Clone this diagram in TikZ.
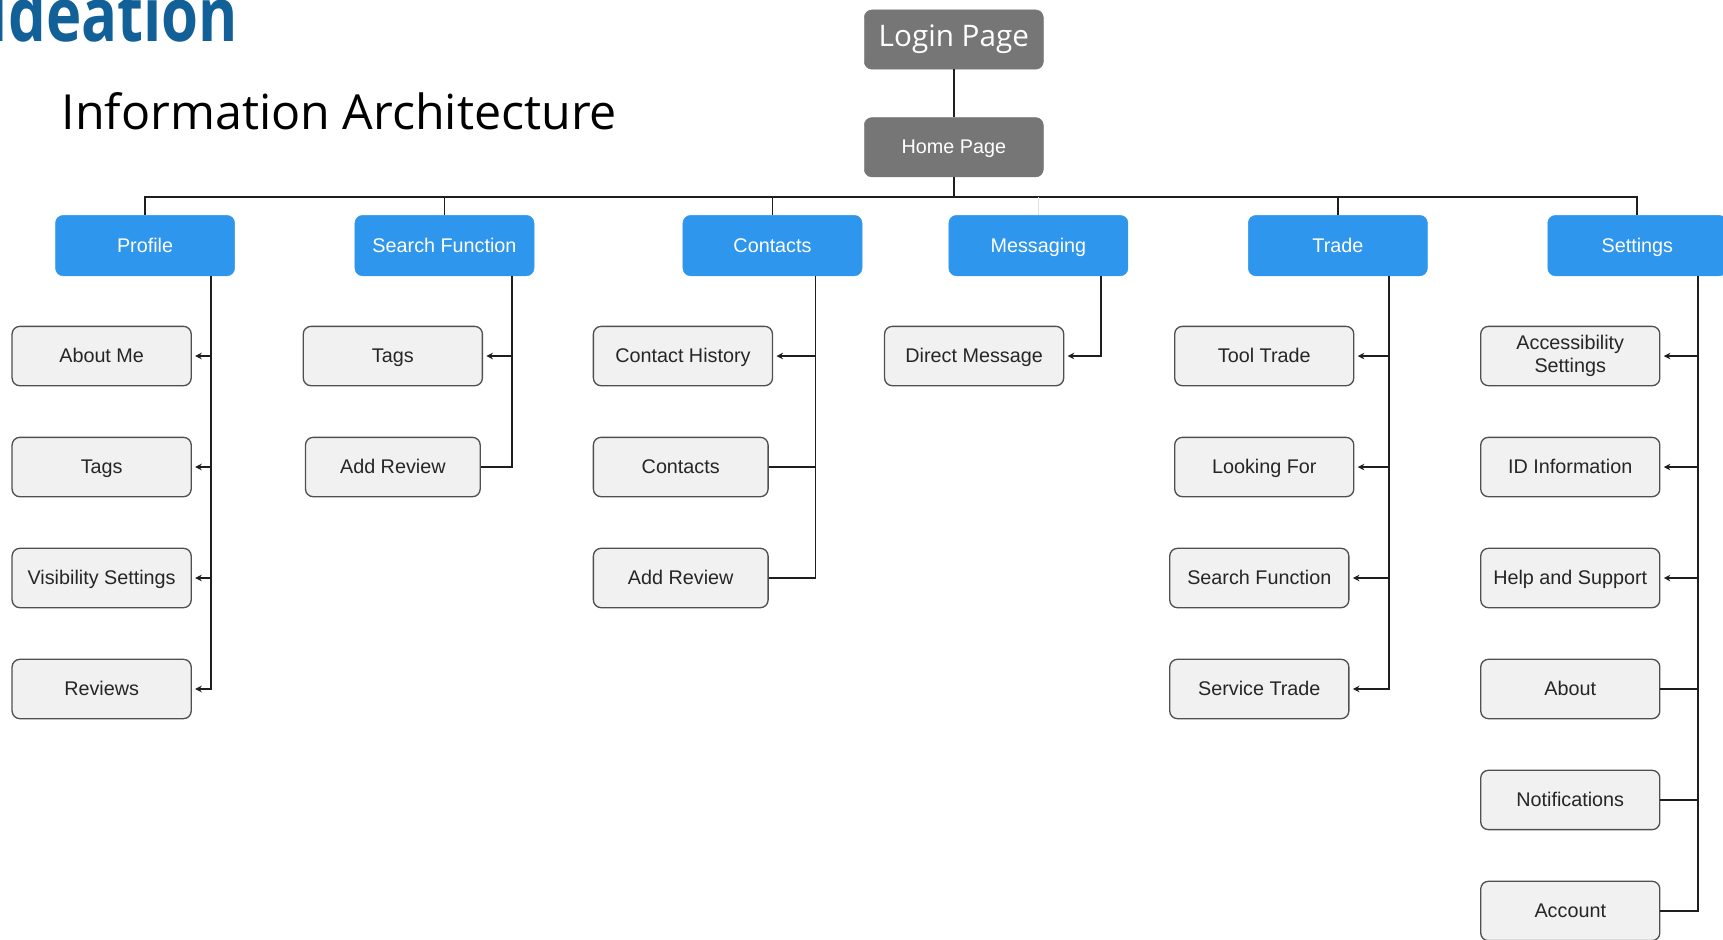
\documentclass[tikz,border=0pt]{standalone}
\usepackage{fontspec}
\setmainfont{Liberation Sans}
\newfontfamily\osans{Open Sans}
\newfontfamily\ideafont[FakeStretch=0.8]{Open Sans}
\usetikzlibrary{arrows.meta}
\definecolor{topblue}{RGB}{47,150,237}
\definecolor{darkgraybox}{RGB}{118,118,118}
\definecolor{subfill}{RGB}{241,241,241}
\definecolor{subdraw}{RGB}{80,80,80}
\definecolor{ideablue}{RGB}{18,96,152}
\definecolor{linecol}{RGB}{30,30,30}
\begin{document}
\begin{tikzpicture}[x=1pt,y=-1pt,
  topbox/.style={rounded corners=7pt, fill=topblue, draw=topblue, text=white,
    minimum width=163pt, minimum height=55pt, inner sep=0pt,
    text height=13pt, text depth=1pt,
    font=\fontsize{18}{20}\selectfont},
  graybox/.style={rounded corners=7pt, fill=darkgraybox, draw=darkgraybox, text=white,
    minimum width=163pt, minimum height=54pt, inner sep=0pt},
  multibox/.style={rounded corners=7pt, fill=subfill, draw=subdraw, line width=1.2pt,
    minimum width=163pt, minimum height=54pt, inner sep=0pt, text=black!85,
    align=center, font=\fontsize{18}{21}\selectfont},
  subbox/.style={multibox, text height=13pt, text depth=1pt},
  ln/.style={draw=linecol, line width=1.3pt},
  spine/.style={draw=linecol, line width=2.2pt},
  busline/.style={draw=linecol, line width=1.5pt},
  faint/.style={draw=black!12, line width=1pt},
  tip/.style={-{Stealth[length=6pt,width=6pt]}, shorten >=3pt},
  arr/.style={ln, tip}
]
\useasboundingbox (0,0) rectangle (1568,855);

% titles
\node[anchor=base east, text=ideablue, inner sep=0pt,
  font=\ideafont\bfseries\fontsize{68}{70}\selectfont] (idea) at (217,38) {Ideation};
\node[anchor=base west, inner sep=0pt, text=black,
  font=\osans\fontsize{44}{46}\selectfont] (ia) at (56,118) {Information Architecture};

% top nodes
\node[graybox, font=\osans\fontsize{27}{30}\selectfont] (login) at (868,36) {Login Page};
\node[graybox, text height=13pt, text depth=1pt, font=\fontsize{18}{20}\selectfont] (home) at (868,134) {Home Page};

\node[topbox] (profile)   at (132,223.5)   {Profile};
\node[topbox] (search)    at (404.5,223.5) {Search Function};
\node[topbox] (contacts)  at (703,223.5)   {Contacts};
\node[topbox] (messaging) at (945,223.5)   {Messaging};
\node[topbox] (trade)     at (1217.5,223.5){Trade};
\node[topbox] (settings)  at (1490,223.5)  {Settings};

% profile children
\node[subbox] (p1) at (92.5,324) {About Me};
\node[subbox] (p2) at (92.5,425) {Tags};
\node[subbox] (p3) at (92.5,526) {Visibility Settings};
\node[subbox] (p4) at (92.5,627) {Reviews};
% search children
\node[subbox] (s1) at (357.5,324) {Tags};
\node[subbox, minimum width=159pt] (s2) at (357.5,425) {Add Review};
% contacts children
\node[subbox] (c1) at (621.5,324) {Contact History};
\node[subbox, minimum width=159pt] (c2) at (619.5,425) {Contacts};
\node[subbox, minimum width=159pt] (c3) at (619.5,526) {Add Review};
% messaging children
\node[subbox] (m1) at (886.5,324) {Direct Message};
% trade children
\node[subbox] (t1) at (1150.5,324) {Tool Trade};
\node[subbox] (t2) at (1150.5,425) {Looking For};
\node[subbox] (t3) at (1146,526) {Search Function};
\node[subbox] (t4) at (1146,627) {Service Trade};
% settings children
\node[multibox] (g1) at (1429,324) {Accessibility\\Settings};
\node[subbox] (g2) at (1429,425) {ID Information};
\node[subbox] (g3) at (1429,526) {Help and Support};
\node[subbox] (g4) at (1429,627) {About};
\node[subbox] (g5) at (1429,728) {Notifications};
\node[subbox] (g6) at (1429,829) {Account};

% top connectors
\draw[spine] (login) -- (home);
\coordinate (bus) at ([yshift=-18pt]home.south);
\draw[busline] (home.south) -- (bus);
\draw[busline] (profile.north) |- (bus) -| (settings.north);
\draw[busline] (search.north) -- (search.north |- bus);
\draw[busline] (contacts.north) -- (contacts.north |- bus);
\draw[busline] (trade.north) -- (trade.north |- bus);
\draw[faint] (messaging.north) -- (messaging.north |- bus);

% profile spine
\coordinate (ps) at ([xshift=60pt]profile.south);
\draw[spine, tip] (ps) |- (p4.east);
\draw[arr] (ps |- p1.east) -- (p1.east);
\draw[arr] (ps |- p2.east) -- (p2.east);
\draw[arr] (ps |- p3.east) -- (p3.east);

% search spine
\coordinate (ss) at ([xshift=61.5pt]search.south);
\draw[ln] (ss) |- (s2.east);
\draw[arr] (ss |- s1.east) -- (s1.east);

% contacts spine
\coordinate (cs) at ([xshift=39pt]contacts.south);
\draw[ln] (cs) |- (c3.east);
\draw[ln] (cs |- c2.east) -- (c2.east);
\draw[arr] (cs |- c1.east) -- (c1.east);

% messaging
\coordinate (ms) at ([xshift=57pt]messaging.south);
\draw[arr] (ms) |- (m1.east);

% trade spine
\coordinate (ts) at ([xshift=46.5pt]trade.south);
\draw[spine, tip] (ts) |- (t4.east);
\draw[arr] (ts |- t1.east) -- (t1.east);
\draw[arr] (ts |- t2.east) -- (t2.east);
\draw[arr] (ts |- t3.east) -- (t3.east);

% settings spine
\coordinate (gs) at ([xshift=55pt]settings.south);
\draw[spine] (gs) |- (g6.east);
\draw[arr] (gs |- g1.east) -- (g1.east);
\draw[arr] (gs |- g2.east) -- (g2.east);
\draw[arr] (gs |- g3.east) -- (g3.east);
\draw[ln] (gs |- g4.east) -- (g4.east);
\draw[ln] (gs |- g5.east) -- (g5.east);
\end{tikzpicture}
\end{document}
